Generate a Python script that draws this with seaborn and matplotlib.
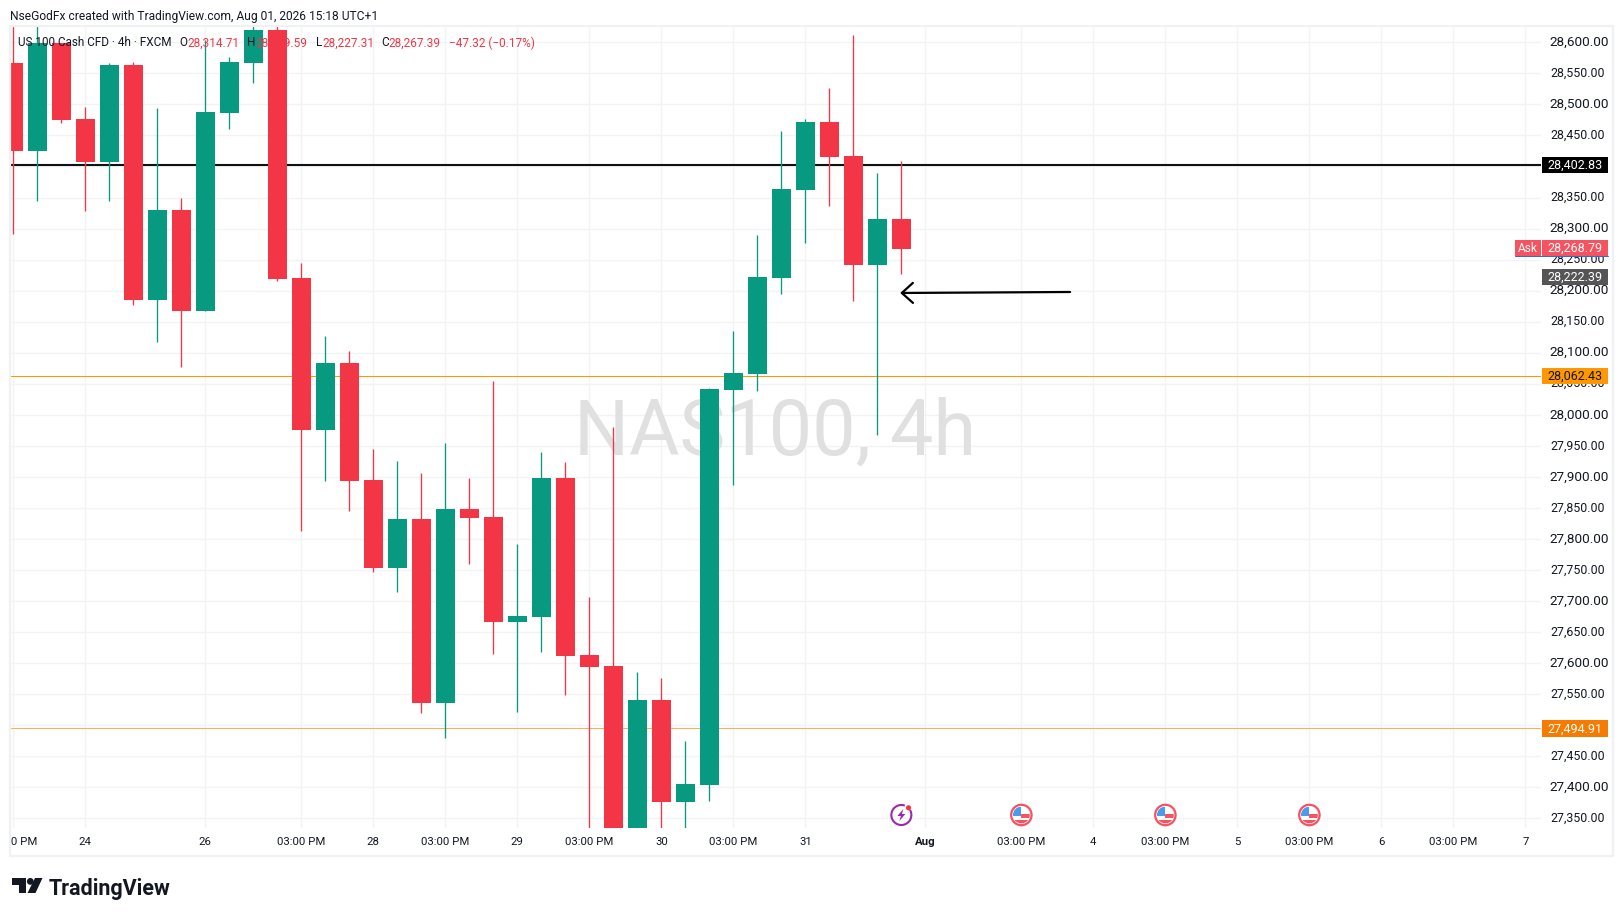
import numpy as np
import pandas as pd
import seaborn as sns
import matplotlib.pyplot as plt
from matplotlib.patches import Rectangle, Circle, Polygon, Arc
from matplotlib.transforms import ScaledTranslation

# candles, 4h bars (values outside the pane are estimates)
opens = [28566.7, 28424.9, 28598.9, 28476.5, 28407.2, 28563.4, 28184.9, 28329.9, 28167.2, 28486.1,
         28566.7, 28619.8, 28220.3, 27975.5, 28083.4, 27895.0, 27753.2, 27832.1, 27535.7, 27848.2,
         27835.3, 27666.2, 27674.3, 27898.2, 27613.1, 27595.3, 27310.0, 27540.6, 27376.3, 27403.6,
         28039.9, 28065.7, 28220.3, 28362.1, 28471.6, 28416.8, 28241.3, 28314.71]
highs = [28650.0, 28650.0, 28599.5, 28495.8, 28566.7, 28568.3, 28494.2, 28349.2, 28603.7, 28576.3,
         28650.0, 28650.0, 28244.5, 28126.9, 28102.7, 27944.9, 27925.6, 27906.2, 27954.5, 27898.2,
         28054.4, 27791.9, 27940.1, 27924.0, 27706.5, 27980.3, 27585.7, 27576.0, 27474.5, 28043.1,
         28135.0, 28289.6, 28457.1, 28476.5, 28526.4, 28611.8, 28389.5, 28409.59]
lows = [28291.7, 28344.4, 28470.0, 28328.3, 28344.4, 28176.8, 28117.2, 28076.2, 28167.0, 28460.3,
        28534.4, 28215.5, 27812.8, 27893.3, 27845.0, 27746.7, 27714.5, 27519.6, 27479.4, 27759.6,
        27614.7, 27521.2, 27617.9, 27548.6, 27300.0, 27290.0, 27290.0, 27300.0, 27310.0, 27377.9,
        27886.9, 28038.3, 28194.6, 28276.7, 28336.3, 28183.3, 27967.4, 28227.31]
closes = [28424.9, 28598.9, 28474.8, 28407.2, 28563.4, 28184.9, 28329.9, 28167.2, 28487.7, 28568.3,
          28619.8, 28218.7, 27975.5, 28083.4, 27893.3, 27753.2, 27832.1, 27535.7, 27848.2, 27833.7,
          27666.2, 27675.9, 27898.2, 27611.4, 27593.7, 27310.0, 27540.6, 27376.3, 27405.3, 28041.5,
          28067.3, 28221.9, 28363.7, 28471.6, 28415.2, 28241.3, 28315.4, 28267.39]

price_ticks = [27350, 27400, 27450, 27500, 27550, 27600, 27650, 27700, 27750, 27800, 27850, 27900, 27950,
               28000, 28050, 28100, 28150, 28200, 28250, 28300, 28350, 28400, 28450, 28500, 28550, 28600]
time_positions = [0, 3, 8, 12, 15, 18, 21, 24, 27, 30, 33, 38, 42, 45, 48, 51, 54, 57, 60, 63]
time_labels = ['03:00 PM', '24', '26', '03:00 PM', '28', '03:00 PM', '29', '03:00 PM', '30', '03:00 PM', '31',
               'Aug', '03:00 PM', '4', '03:00 PM', '5', '03:00 PM', '6', '03:00 PM', '7']

black_level = 28402.83
orange_level = 28062.43
orange_level2 = 27494.91
ask_price = 28268.79
last_price = 28222.39
event_positions = [42, 48, 54]
power_position = 37

GREEN = '#089981'
RED = '#F23645'
W, H = 1623, 916
FONT = 'Roboto'


def make_table():
    df = pd.DataFrame({'open': opens, 'high': highs, 'low': lows, 'close': closes})
    df['idx'] = np.arange(len(df))
    df['base'] = df[['open', 'close']].min(axis=1)
    df['body'] = (df['open'] - df['close']).abs()
    df['up'] = df['close'] >= df['open']
    return df


def price_tag(over, ax, price, bg, fg, label=None):
    y = H - ax.transData.transform((0, price))[1]
    over.add_patch(Rectangle((1542, y - 8.2), 65.8, 16.4, color=bg, lw=0, zorder=5))
    over.text(1574.8, y - 0.8, label or f'{price:,.2f}', color=fg, fontsize=9.0, ha='center', va='center_baseline', zorder=6)
    return y


def us_flag(over, x, y):
    ring = Circle((x, y), 10.2, facecolor='white', edgecolor='#F7525F', lw=1.6, zorder=5)
    over.add_patch(ring)
    inner = Circle((x, y), 8.4, transform=over.transData)
    parts = [((x - 8.4, y - 8.4), 8.4, 9, '#4A9CF0'),
             ((x, y - 1), 8.4, 4, '#F7525F'),
             ((x - 8.4, y + 4.6), 16.8, 4, '#F7525F')]
    for xy, w, h, col in parts:
        p = Rectangle(xy, w, h, color=col, lw=0, zorder=6)
        over.add_patch(p)
        p.set_clip_path(inner)


def power_icon(over, x, y):
    over.add_patch(Arc((x, y), 20, 20, theta1=-30, theta2=290, color='#9C27B0', lw=1.5, zorder=5))
    bolt = [(x + 2, y - 6), (x - 4, y + 1), (x - 0.5, y + 1), (x - 2, y + 6), (x + 4, y - 1), (x + 0.5, y - 1)]
    over.add_patch(Polygon(bolt, color='#9C27B0', lw=0, zorder=5))
    over.add_patch(Circle((x + 7.2, y - 7.2), 2.6, color='#F23645', lw=0, zorder=6))


def logo(over):
    over.add_patch(Polygon([(12, 878), (26, 878), (26, 893), (19, 893), (19, 885), (12, 885)], color='#131722', lw=0))
    over.add_patch(Circle((30.3, 881.4), 3.4, color='#131722', lw=0))
    over.add_patch(Polygon([(35, 878), (42.5, 878), (35.5, 893), (27.5, 893)], color='#131722', lw=0))
    over.text(48.5, 886, 'TradingView', fontsize=15.5, fontweight='semibold', color='#131722', va='center_baseline')


def main():
    df = make_table()
    sns.set_theme(style='white')
    plt.rcParams['font.family'] = [FONT, 'DejaVu Sans']

    fig = plt.figure(figsize=(W / 100, H / 100), dpi=100, facecolor='white')
    ax = fig.add_axes([10 / W, 1 - 828 / H, (1541 - 10) / W, (828 - 26.5) / H])
    ax.set_facecolor('white')

    # grid and levels below the candles
    ax.set_axisbelow(True)
    ax.grid(True, color='#F2F3F5', lw=1.0)
    ax.axhline(black_level, color='#111111', lw=1.5, zorder=1.5)
    ax.axhline(orange_level, color='#FF9800', lw=0.75, zorder=1.5)
    ax.axhline(orange_level2, color='#FFAE57', lw=0.75, zorder=1.5)

    ax.text(31.74, 27936.8, 'NAS100, 4h', fontsize=55.6, color='#E0E0E0', ha='center', va='baseline', zorder=1)

    # wicks then bodies
    for up, col in [(True, GREEN), (False, RED)]:
        part = df[df['up'] == up]
        ax.vlines(part['idx'], part['low'], part['high'], color=col, lw=0.95, zorder=2)
        sns.barplot(data=part, x='idx', y='body', bottom=part['base'].values, native_scale=True, color=col,
                    saturation=1, width=0.79, errorbar=None, linewidth=0, zorder=3, ax=ax)

    ax.annotate('', xy=(36.95, 28196.2), xytext=(44.03, 28197.8), zorder=4,
                arrowprops=dict(arrowstyle='->,head_length=0.8,head_width=0.72', mutation_scale=10,
                                color='black', lw=1.6, shrinkA=0, shrinkB=0))

    ax.set_xlim(-0.1375, 63.65)
    ax.set_ylim(28600 - (828 - 42.3) * 1.6108, 28600 + (42.3 - 26.5) * 1.6108)
    ax.set_xlabel('')
    ax.set_ylabel('')
    ax.set_xticks(time_positions)
    ax.set_xticklabels(time_labels, fontsize=8.2, color='#131722')
    ax.tick_params(axis='x', length=0, pad=6.3)
    for lab, txt in zip(ax.get_xticklabels(), time_labels):
        if txt == 'Aug':
            lab.set_fontweight('bold')
    ax.yaxis.tick_right()
    ax.set_yticks(price_ticks)
    ax.set_yticklabels([f'{p:,.2f}' for p in price_ticks], color='#131722')
    ax.tick_params(axis='y', length=0, pad=6.4)
    # labels sit a touch above their gridline
    nudge = ScaledTranslation(0, 1.5 / 100, fig.dpi_scale_trans)
    for lab, p in zip(ax.get_yticklabels(), price_ticks):
        lab.set_fontsize(9.7 if p % 100 == 0 else 8.9)
        lab.set_transform(lab.get_transform() + nudge)
    sns.despine(ax=ax, left=True, bottom=True, right=True, top=True)

    # everything that sits on top, in pixel coordinates
    over = fig.add_axes([0, 0, 1, 1], facecolor='none')
    over.set_xlim(0, W)
    over.set_ylim(H, 0)
    over.axis('off')

    over.add_patch(Rectangle((0, 829), 9, 26, color='white', lw=0))
    over.add_patch(Rectangle((9.5, 26), 1603, 830, fill=False, edgecolor='#F0F1F3', lw=1.6))

    over.text(10, 15, 'NseGodFx created with TradingView.com, Aug 01, 2026 15:18 UTC+1', fontsize=8.64,
              color='#131722', va='center_baseline')

    over.text(18, 41.5, 'US 100 Cash CFD · 4h · FXCM', fontsize=8.5, color='#131722', va='center_baseline')
    legend = [(179, 'O', '#131722'), (187, '28,314.71', RED), (247, 'H', '#131722'), (255, '28,409.59', RED),
              (315.7, 'L', '#131722'), (322, '28,227.31', RED), (381.4, 'C', '#131722'), (388.6, '28,267.39', RED),
              (448.6, '−47.32 (−0.17%)', RED)]
    for x, txt, col in legend:
        over.text(x, 41.5, txt, fontsize=8.5, color=col, va='center_baseline')

    price_tag(over, ax, black_level, 'black', 'white')
    price_tag(over, ax, orange_level, '#FF9800', '#131722')
    price_tag(over, ax, orange_level2, '#F57C00', 'white')
    price_tag(over, ax, last_price, '#555555', 'white')
    ask_y = price_tag(over, ax, ask_price, '#F7525F', 'white')
    over.add_patch(Rectangle((1515, ask_y - 8.2), 26, 16.4, color='#F7525F', lw=0, zorder=5))
    over.text(1528, ask_y - 0.5, 'Ask', color='white', fontsize=8.6, ha='center', va='center_baseline', zorder=6)
    over.plot([1515, 1607.8], [ask_y + 8.4, ask_y + 8.4], color='#2962FF', lw=0.7, zorder=6)

    for pos in event_positions:
        x = ax.transData.transform((pos, 0))[0]
        us_flag(over, x, 815)
    power_icon(over, ax.transData.transform((power_position, 0))[0], 815)

    logo(over)
    fig.savefig('out.png', dpi=100)


if __name__ == '__main__':
    main()
